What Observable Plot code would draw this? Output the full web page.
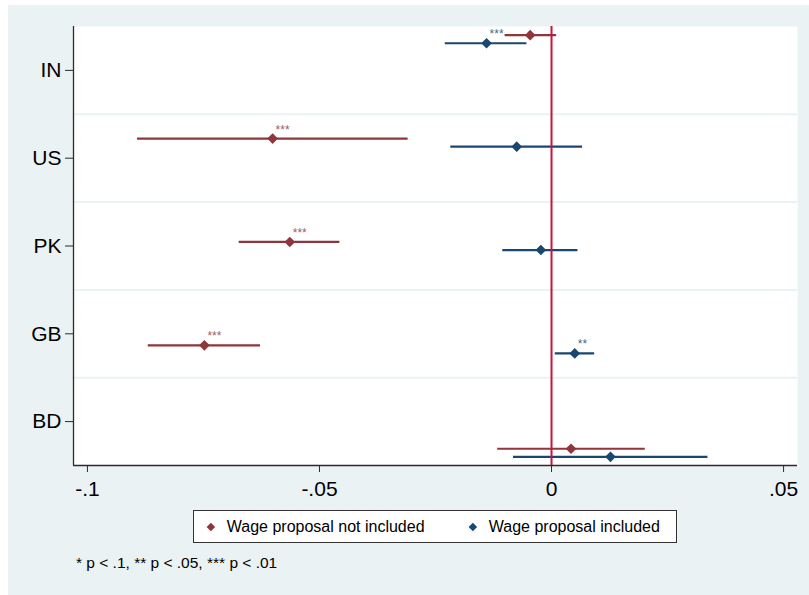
<!DOCTYPE html>
<html>
<head>
<meta charset="utf-8">
<script src="https://cdn.jsdelivr.net/npm/d3@7"></script>
<script src="https://cdn.jsdelivr.net/npm/@observablehq/plot@0.6"></script>
<style>
  html, body { margin: 0; padding: 0; background: #ffffff; }
  #wrap { position: absolute; left: 8px; top: 5px; width: 801px; height: 590px; background: #EAF2F3;
          font-family: "Liberation Sans", Arial, Helvetica, sans-serif; color: #000; }
  #chart { position: absolute; left: 0; top: 0; }
  #legend { position: absolute; left: 185px; top: 505px; width: 482px; height: 31px;
            border: 1px solid #333; background: #fff; font-size: 16px; }
  .item { position: absolute; top: 0; height: 31px; display: flex; align-items: center; white-space: nowrap; }
  .dm { display: inline-block; width: 5.8px; height: 5.8px; transform: rotate(45deg); margin-right: 13px; }
  #caption { position: absolute; left: 68px; top: 549px; font-size: 15.5px; white-space: nowrap; }
</style>
</head>
<body>
<div id="wrap">
  <div id="chart"></div>
  <div id="legend"></div>
  <div id="caption"></div>
</div>
<script>
// ---- data ----
const categories = ["IN", "US", "PK", "GB", "BD"];
const seriesNames = ["Wage proposal not included", "Wage proposal included"];
const seriesColors = ["#90353B", "#1A476F"];

const estNotIncl = [-0.0046, -0.0601, -0.0564, -0.0748, 0.0042];
const loNotIncl  = [-0.0100, -0.0892, -0.0673, -0.0869, -0.0116];
const hiNotIncl  = [ 0.0011, -0.0309, -0.0456, -0.0627, 0.0202];
const starsNotIncl = ["", "***", "***", "***", ""];

const estIncl = [-0.0140, -0.0075, -0.0023, 0.0050, 0.0127];
const loIncl  = [-0.0229, -0.0217, -0.0105, 0.0008, -0.0082];
const hiIncl  = [-0.0053, 0.0067, 0.0057, 0.0093, 0.0337];
const starsIncl = ["***", "", "", "**", ""];

const xTicks = [-0.1, -0.05, 0, 0.05];
const captionText = "* p < .1, ** p < .05, *** p < .01";

// ---- layout helpers ----
const xDomain = [-0.1030, 0.0530];
const yDomain = [-0.084, 4.162];       // point index units (top to bottom)
const seriesOffset = [0, 0.078];        // vertical offset of second series
const band = (yDomain[1] - yDomain[0]) / categories.length;
const labelPos = categories.map((c, j) => yDomain[0] + band * (j + 0.5));
const gridPos = categories.slice(1).map((c, j) => yDomain[0] + band * (j + 1));
const labelMap = new Map(labelPos.map((p, j) => [p, categories[j]]));

const rows = [];
categories.forEach((c, i) => {
  rows.push({cat: c, s: 0, pos: i + seriesOffset[0], est: estNotIncl[i], lo: loNotIncl[i], hi: hiNotIncl[i], star: starsNotIncl[i]});
  rows.push({cat: c, s: 1, pos: i + seriesOffset[1], est: estIncl[i], lo: loIncl[i], hi: hiIncl[i], star: starsIncl[i]});
});
const color = d => seriesColors[d.s];

const chart = Plot.plot({
  width: 801,
  height: 500,
  marginLeft: 65,
  marginRight: 12,
  marginTop: 21,
  marginBottom: 40,
  style: {background: "transparent", fontFamily: "'Liberation Sans', Arial, sans-serif", color: "#000"},
  x: {domain: xDomain},
  y: {domain: yDomain, reverse: true},
  marks: [
    Plot.frame({fill: "#ffffff", stroke: null}),
    Plot.ruleY(gridPos, {stroke: "#EAF2F3", strokeWidth: 2}),
    Plot.ruleY(rows, {y: "pos", x1: "lo", x2: "hi", stroke: color, strokeWidth: 2.2}),
    Plot.ruleX([0], {stroke: "#C8143C", strokeWidth: 2}),
    Plot.dot(rows, {x: "est", y: "pos", symbol: "diamond2", r: 4.8, fill: color, stroke: null}),
    Plot.text(rows.filter(d => d.star), {x: "est", y: "pos", text: "star", fill: color, fillOpacity: 0.85, fontSize: 12,
      textAnchor: "start", lineAnchor: "bottom", dx: 3, dy: -5}),
    Plot.ruleX([xDomain[0]], {stroke: "#2b2b2b", strokeWidth: 1.3}),
    Plot.ruleY([yDomain[1]], {stroke: "#2b2b2b", strokeWidth: 1.3}),
    Plot.axisX(xTicks, {tickFormat: d => String(d).replace("0.", "."), tickSize: 7, tickPadding: 9,
      fontSize: 21, stroke: "#2b2b2b", label: null}),
    Plot.axisY(labelPos, {tickFormat: d => labelMap.get(d), tickSize: 8, tickPadding: 4,
      fontSize: 21, stroke: "#2b2b2b", label: null})
  ]
});
document.getElementById("chart").appendChild(chart);

// ---- legend ----
const legend = document.getElementById("legend");
const legendLeft = [14, 276];
seriesNames.forEach((name, i) => {
  const it = document.createElement("div");
  it.className = "item";
  it.style.left = legendLeft[i] + "px";
  const dm = document.createElement("span");
  dm.className = "dm";
  dm.style.background = seriesColors[i];
  it.appendChild(dm);
  const t = document.createElement("span");
  t.textContent = name;
  it.appendChild(t);
  legend.appendChild(it);
});
document.getElementById("caption").textContent = captionText;
</script>
</body>
</html>
